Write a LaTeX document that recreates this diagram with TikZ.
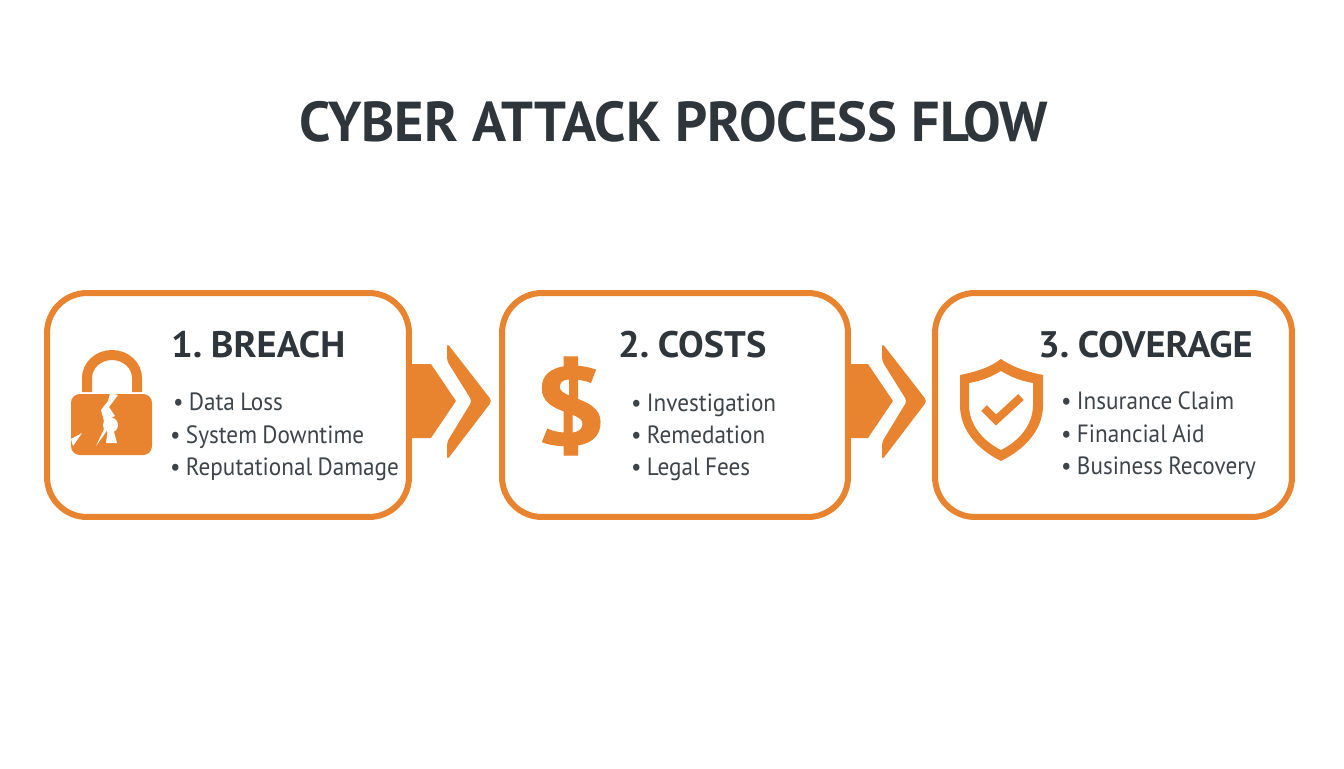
\documentclass[tikz,border=0pt]{standalone}
\usepackage{fontspec}
\setmainfont{PT Sans}
\newfontfamily\itemfont[FakeStretch=0.93,WordSpace=0.85]{PT Sans}
\newfontfamily\headfont[FakeStretch=1.04,WordSpace=0.55]{PT Sans Bold}
\newfontfamily\dollarfont[FakeStretch=1.18,FakeBold=1.2]{PT Sans Bold}
\usetikzlibrary{positioning}

\definecolor{flow}{HTML}{E8832F}
\definecolor{ink}{HTML}{2E353B}
\definecolor{itemink}{HTML}{3D444A}

\tikzset{
	stage/.style={draw=flow,fill=white,line width=0.12cm,rounded corners=0.8cm,outer sep=0,minimum height=4.48cm},
	heading/.style={anchor=base west,text=ink,font=\headfont\fontsize{21}{24}\selectfont},
	item/.style={anchor=base west,text=itemink,font=\itemfont\fontsize{14.2}{17}\selectfont},
	flowfill/.style={fill=flow,draw=none},
	chevron/.style={fill=flow,draw=none,rounded corners=2}
}

\begin{document}
\begin{tikzpicture}[x=0.02cm,y=-0.02cm]

\useasboundingbox (0,0) rectangle (1344,768);

\node[anchor=base,text=ink,font=\bfseries\fontsize{32}{38}\selectfont](title) at (674,141) {CYBER ATTACK PROCESS FLOW};

\node[stage,minimum width=7.24cm](box1) at (228,405) {};
\node[stage,minimum width=6.92cm](box2) at (675,405) {};
\node[stage,minimum width=7.14cm](box3) at (1113.5,405) {};

\node[heading](head1) at (165,357) {1. BREACH};
\node[heading](head2) at (612,357) {2. COSTS};
\node[heading](head3) at (1032,357) {3. COVERAGE};

\foreach[count=\c] \x/\y/\t in {
	167/410/Data Loss,164/443/System Downtime,164/475/Reputational Damage,
	625/411/Investigation,625/443/Remedation,625/475/Legal Fees,
	1055/409/Insurance Claim,1055/442/Financial Aid,1055/474/Business Recovery}
	\node[item](item\c) at (\x,\y) {• \t};

% arrows between the boxes
\foreach \a/\s/\p in {1/22/447,2/20/882}{
	\fill[flowfill](box\a.east) ++(0,-41) -- ++(\s,0) -- ++(25,37) -- ++(-25,37) -- ++(-\s,0) -- cycle;
	\fill[chevron](\p,343) -- ++(45,58) -- ++(-45,59) -- ++(0,-18) -- ++(25,-41) -- ++(-25,-40) -- cycle;
}

% lock
\draw[flow,line width=0.2cm](87,392) -- (87,378) arc (180:360:25 and 23) -- (137,392);
\fill[flow,rounded corners=5](71,394) rectangle (152,455);
\fill[white](110,393) -- (118,395) -- (109,407) -- (115,416) -- (104,421) -- (101,410) -- (108,401) -- cycle;
\fill[white](110.5,425) circle (7.5);
\fill[white](108,428) -- (113,428) -- (117,443) -- (106,443) -- cycle;
\fill[white](96,446) -- (105,427) -- (106,432) -- cycle;
\fill[white](71,439) -- (82,433) -- (73,446) -- cycle;

% dollar
\node[text=flow,font=\dollarfont\fontsize{62}{66}\selectfont](dollar) at (570,406) {\$};

% shield
\fill[flow,even odd rule](1001,359) .. controls (1014,368) and (1028,372) .. (1043,375) -- (1043,405) .. controls (1043,430) and (1025,449) .. (1001,461) .. controls (977,449) and (960,430) .. (960,405) -- (960,375) .. controls (975,372) and (989,368) .. (1001,359) -- cycle
	(1001,371) .. controls (991,377) and (981,381) .. (969,383) -- (969,405) .. controls (969,425) and (983,441) .. (1001,450) .. controls (1019,441) and (1033,425) .. (1033,405) -- (1033,383) .. controls (1021,381) and (1011,377) .. (1001,371) -- cycle;
\draw[flow,line width=0.16cm](984,408) -- (996,420) -- (1021,397);

\end{tikzpicture}
\end{document}
